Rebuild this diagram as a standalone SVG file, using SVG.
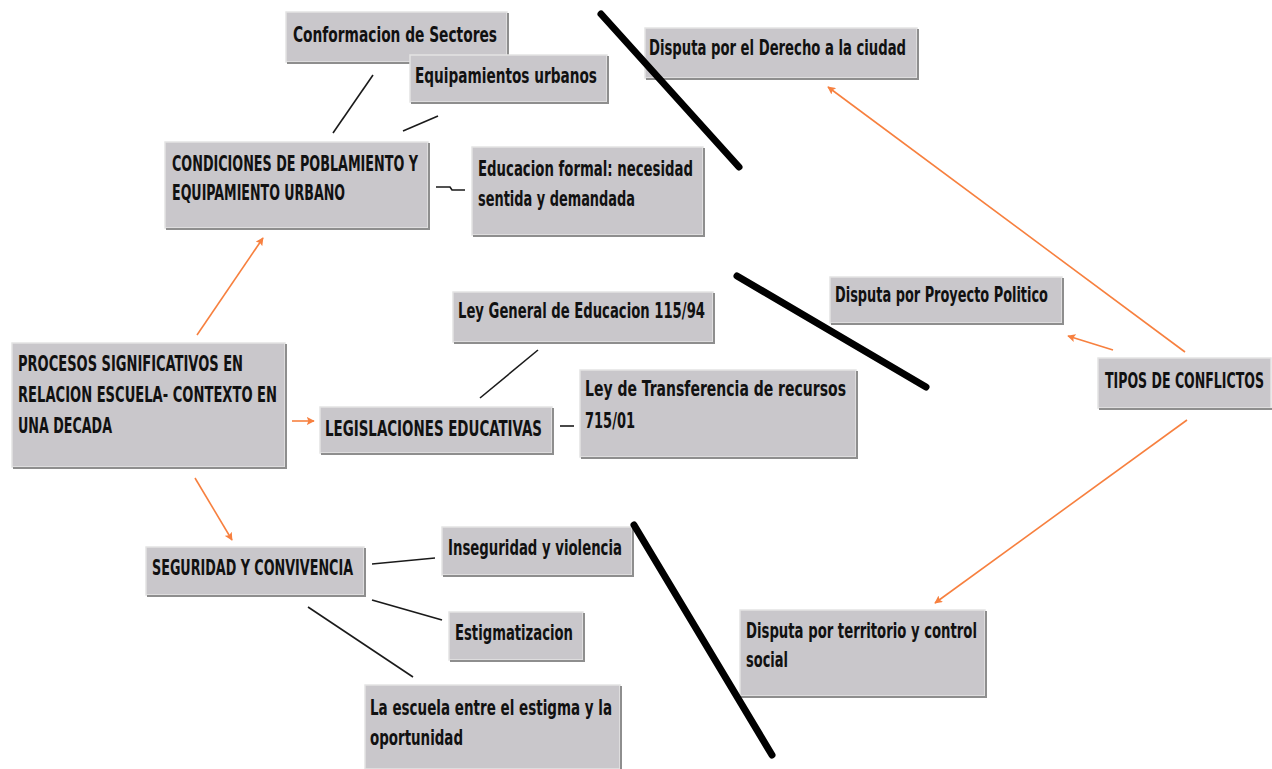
<svg xmlns="http://www.w3.org/2000/svg" width="1272" height="769" viewBox="0 0 1272 769">
<defs>
<style>
.box{fill:#c9c7cb;stroke:#e4e4e4;stroke-width:1.5}
.sh{fill:none;stroke:#8e8e8e;stroke-width:2}
.t{font-family:"Liberation Sans Narrow","DejaVu Sans Condensed","Liberation Sans",Arial,sans-serif;font-weight:bold;font-size:20.5px;fill:#111}
.arr{fill:none;stroke:#f7803f;stroke-width:1.6;marker-end:url(#ah)}
.ln{fill:none;stroke:#1a1a1a;stroke-width:1.6}
.sep{fill:none;stroke:#000;stroke-width:7;stroke-linecap:round}
</style>
<marker id="ah" viewBox="0 0 10 10" refX="9" refY="5" markerWidth="8" markerHeight="8" markerUnits="userSpaceOnUse" orient="auto">
<path d="M0,0 L10,5 L0,10 L2,5 Z" fill="#f7803f"/>
</marker>
</defs>
<rect width="1272" height="769" fill="#fff"/>

<g id="connectors">
<line class="arr" x1="197" y1="335" x2="263" y2="238"/>
<line class="arr" x1="292" y1="421" x2="314" y2="421"/>
<line class="arr" x1="195" y1="478" x2="232" y2="540"/>
<line class="arr" x1="1185" y1="352" x2="828" y2="87"/>
<line class="arr" x1="1113" y1="350" x2="1068" y2="336"/>
<line class="arr" x1="1187" y1="420" x2="935" y2="603"/>
<line class="ln" x1="333" y1="133" x2="373" y2="75"/>
<line class="ln" x1="403" y1="131" x2="438" y2="116"/>
<polyline class="ln" points="436,187 450,187 452,190 465,190"/>
<line class="ln" x1="480" y1="398" x2="538" y2="350"/>
<line class="ln" x1="560" y1="426" x2="574" y2="426"/>
<line class="ln" x1="372" y1="564" x2="435" y2="558"/>
<line class="ln" x1="372" y1="600" x2="442" y2="620"/>
<line class="ln" x1="308" y1="607" x2="413" y2="677"/>
</g>

<g id="n1"><rect class="box" x="286" y="12" width="221" height="50"/><path class="sh" d="M287,63 H508 V13"/><text class="t" x="293" y="42" textLength="204" lengthAdjust="spacingAndGlyphs">Conformacion de Sectores</text></g>
<g id="n2"><rect class="box" x="410" y="55" width="197" height="47"/><path class="sh" d="M411,103 H608 V56"/><text class="t" x="415" y="83" textLength="182" lengthAdjust="spacingAndGlyphs">Equipamientos urbanos</text></g>
<g id="n3"><rect class="box" x="165" y="142" width="263" height="86"/><path class="sh" d="M166,229 H429 V143"/><text class="t" x="172" y="171" textLength="246" lengthAdjust="spacingAndGlyphs">CONDICIONES DE POBLAMIENTO Y</text><text class="t" x="172" y="200" textLength="173" lengthAdjust="spacingAndGlyphs">EQUIPAMIENTO URBANO</text></g>
<g id="n4"><rect class="box" x="472" y="147" width="231" height="88"/><path class="sh" d="M473,236 H704 V148"/><text class="t" x="478" y="176" textLength="215" lengthAdjust="spacingAndGlyphs">Educacion formal: necesidad</text><text class="t" x="478" y="206" textLength="157" lengthAdjust="spacingAndGlyphs">sentida y demandada</text></g>
<g id="n5"><rect class="box" x="645" y="28" width="272" height="50"/><path class="sh" d="M646,79 H918 V29"/><text class="t" x="649" y="55" textLength="257" lengthAdjust="spacingAndGlyphs">Disputa por el Derecho a la ciudad</text></g>
<g id="n6"><rect class="box" x="830" y="277" width="232" height="46"/><path class="sh" d="M831,324 H1063 V278"/><text class="t" x="835" y="302" textLength="213" lengthAdjust="spacingAndGlyphs">Disputa por Proyecto Politico</text></g>
<g id="n7"><rect class="box" x="453" y="292" width="260" height="50"/><path class="sh" d="M454,343 H714 V293"/><text class="t" x="458" y="318" textLength="247" lengthAdjust="spacingAndGlyphs">Ley General de Educacion 115/94</text></g>
<g id="n8"><rect class="box" x="580" y="370" width="276" height="87"/><path class="sh" d="M581,458 H857 V371"/><text class="t" x="585" y="396" textLength="261" lengthAdjust="spacingAndGlyphs">Ley de Transferencia de recursos</text><text class="t" x="585" y="428" textLength="50" lengthAdjust="spacingAndGlyphs">715/01</text></g>
<g id="n9"><rect class="box" x="320" y="407" width="232" height="46"/><path class="sh" d="M321,454 H553 V408"/><text class="t" x="325" y="436" textLength="217" lengthAdjust="spacingAndGlyphs">LEGISLACIONES EDUCATIVAS</text></g>
<g id="n10"><rect class="box" x="12" y="343" width="273" height="124"/><path class="sh" d="M13,468 H286 V344"/><text class="t" x="18" y="371" textLength="225" lengthAdjust="spacingAndGlyphs">PROCESOS SIGNIFICATIVOS EN</text><text class="t" x="18" y="402" textLength="259" lengthAdjust="spacingAndGlyphs">RELACION ESCUELA- CONTEXTO EN</text><text class="t" x="18" y="433" textLength="94" lengthAdjust="spacingAndGlyphs">UNA DECADA</text></g>
<g id="n11"><rect class="box" x="146" y="547" width="218" height="48"/><path class="sh" d="M147,596 H365 V548"/><text class="t" x="152" y="575" textLength="201" lengthAdjust="spacingAndGlyphs">SEGURIDAD Y CONVIVENCIA</text></g>
<g id="n12"><rect class="box" x="442" y="527" width="190" height="48"/><path class="sh" d="M443,576 H633 V528"/><text class="t" x="448" y="555" textLength="174" lengthAdjust="spacingAndGlyphs">Inseguridad y violencia</text></g>
<g id="n13"><rect class="box" x="449" y="612" width="134" height="48"/><path class="sh" d="M450,661 H584 V613"/><text class="t" x="455" y="640" textLength="118" lengthAdjust="spacingAndGlyphs">Estigmatizacion</text></g>
<g id="n14"><rect class="box" x="365" y="685" width="255" height="84"/><path class="sh" d="M621,686 V769"/><text class="t" x="370" y="715" textLength="242" lengthAdjust="spacingAndGlyphs">La escuela entre el estigma y la</text><text class="t" x="370" y="745" textLength="93" lengthAdjust="spacingAndGlyphs">oportunidad</text></g>
<g id="n15"><rect class="box" x="740" y="610" width="245" height="86"/><path class="sh" d="M741,697 H986 V611"/><text class="t" x="746" y="638" textLength="231" lengthAdjust="spacingAndGlyphs">Disputa por territorio y control</text><text class="t" x="746" y="667" textLength="42" lengthAdjust="spacingAndGlyphs">social</text></g>
<g id="n16"><rect class="box" x="1098" y="358" width="173" height="50"/><path class="sh" d="M1099,409 H1272"/><text class="t" x="1105" y="388" textLength="159" lengthAdjust="spacingAndGlyphs">TIPOS DE CONFLICTOS</text></g>

<g id="separators">
<line class="sep" x1="601" y1="14" x2="739" y2="167"/>
<line class="sep" x1="737" y1="276" x2="926" y2="387"/>
<line class="sep" x1="634" y1="525" x2="772" y2="755"/>
</g>
</svg>
